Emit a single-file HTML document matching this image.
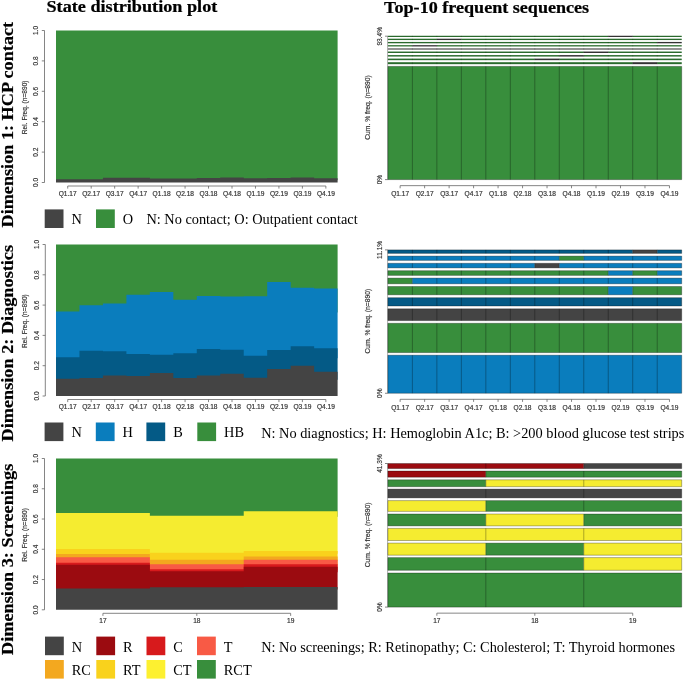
<!DOCTYPE html>
<html lang="en"><head><meta charset="utf-8"><title>Sequence analysis: state distribution and frequent sequences</title>
<style>html,body{margin:0;padding:0;background:#fff;}body{width:685px;height:679px;overflow:hidden;}svg{display:block;}text{white-space:pre;}.s{stroke:#333;stroke-width:0.18px;}</style>
</head><body>
<svg width="685" height="679" viewBox="0 0 685 679" role="img" aria-label="State distribution plots and top-10 frequent sequences for three dimensions">
<rect x="0" y="0" width="685" height="679" fill="#ffffff"/>
<g transform="translate(46.5 12.1) scale(1 0.93)">
<text x="0" y="0" font-size="18.2" font-family='"Liberation Serif", "Times New Roman", serif' text-anchor="start" font-weight="bold" fill="#000" stroke="#000" stroke-width="0.25">State distribution plot</text>
</g>
<g transform="translate(384.1 12.5) scale(1 0.93)">
<text x="0" y="0" font-size="18.1" font-family='"Liberation Serif", "Times New Roman", serif' text-anchor="start" font-weight="bold" fill="#000" stroke="#000" stroke-width="0.25">Top-10 frequent sequences</text>
</g>
<g transform="translate(13.1 227.5) rotate(-90) scale(1 0.93)">
<text x="0" y="0" font-size="18.2" font-family='"Liberation Serif", "Times New Roman", serif' text-anchor="start" font-weight="bold" fill="#000" stroke="#000" stroke-width="0.2">Dimension 1: HCP contact</text>
</g>
<g transform="translate(13.1 441.5) rotate(-90) scale(1 0.93)">
<text x="0" y="0" font-size="18.25" font-family='"Liberation Serif", "Times New Roman", serif' text-anchor="start" font-weight="bold" fill="#000" stroke="#000" stroke-width="0.2">Dimension 2: Diagnostics</text>
</g>
<g transform="translate(13.1 654.9) rotate(-90) scale(1 0.93)">
<text x="0" y="0" font-size="18.25" font-family='"Liberation Serif", "Times New Roman", serif' text-anchor="start" font-weight="bold" fill="#000" stroke="#000" stroke-width="0.2">Dimension 3: Screenings</text>
</g>
<rect x="56" y="30.5" width="281.6" height="149.66" fill="#388e3c"/>
<polygon points="56,182.5 56,179.16 79.47,179.16 79.47,179.16 102.93,179.16 102.93,177.64 126.4,177.64 126.4,177.64 149.87,177.64 149.87,178.55 173.33,178.55 173.33,178.4 196.8,178.4 196.8,177.94 220.27,177.94 220.27,177.48 243.73,177.48 243.73,178.24 267.2,178.24 267.2,177.94 290.67,177.94 290.67,177.48 314.13,177.48 314.13,178.24 337.6,178.24 337.6,182.5" fill="#444444"/>
<line x1="44.5" y1="30.5" x2="44.5" y2="182.5" stroke="#666666" stroke-width="0.8"/>
<line x1="41.8" y1="182.5" x2="44.5" y2="182.5" stroke="#666666" stroke-width="0.8"/>
<text x="38.2" y="182.5" font-size="6.6" font-family='"Liberation Sans", Arial, sans-serif' text-anchor="middle" font-weight="normal" fill="#333333" transform="rotate(-90 38.2 182.5)" class="s">0.0</text>
<line x1="41.8" y1="152.1" x2="44.5" y2="152.1" stroke="#666666" stroke-width="0.8"/>
<text x="38.2" y="152.1" font-size="6.6" font-family='"Liberation Sans", Arial, sans-serif' text-anchor="middle" font-weight="normal" fill="#333333" transform="rotate(-90 38.2 152.1)" class="s">0.2</text>
<line x1="41.8" y1="121.7" x2="44.5" y2="121.7" stroke="#666666" stroke-width="0.8"/>
<text x="38.2" y="121.7" font-size="6.6" font-family='"Liberation Sans", Arial, sans-serif' text-anchor="middle" font-weight="normal" fill="#333333" transform="rotate(-90 38.2 121.7)" class="s">0.4</text>
<line x1="41.8" y1="91.3" x2="44.5" y2="91.3" stroke="#666666" stroke-width="0.8"/>
<text x="38.2" y="91.3" font-size="6.6" font-family='"Liberation Sans", Arial, sans-serif' text-anchor="middle" font-weight="normal" fill="#333333" transform="rotate(-90 38.2 91.3)" class="s">0.6</text>
<line x1="41.8" y1="60.9" x2="44.5" y2="60.9" stroke="#666666" stroke-width="0.8"/>
<text x="38.2" y="60.9" font-size="6.6" font-family='"Liberation Sans", Arial, sans-serif' text-anchor="middle" font-weight="normal" fill="#333333" transform="rotate(-90 38.2 60.9)" class="s">0.8</text>
<line x1="41.8" y1="30.5" x2="44.5" y2="30.5" stroke="#666666" stroke-width="0.8"/>
<text x="38.2" y="30.5" font-size="6.6" font-family='"Liberation Sans", Arial, sans-serif' text-anchor="middle" font-weight="normal" fill="#333333" transform="rotate(-90 38.2 30.5)" class="s">1.0</text>
<text x="27.2" y="107.3" font-size="6.6" font-family='"Liberation Sans", Arial, sans-serif' text-anchor="middle" font-weight="normal" fill="#333333" transform="rotate(-90 27.2 107.3)" class="s">Rel. Freq. (n=890)</text>
<line x1="67.73" y1="186" x2="325.87" y2="186" stroke="#666666" stroke-width="0.8"/>
<line x1="67.73" y1="186" x2="67.73" y2="188.6" stroke="#666666" stroke-width="0.8"/>
<text x="67.73" y="195.5" font-size="6.6" font-family='"Liberation Sans", Arial, sans-serif' text-anchor="middle" font-weight="normal" fill="#333333" class="s">Q1.17</text>
<line x1="91.2" y1="186" x2="91.2" y2="188.6" stroke="#666666" stroke-width="0.8"/>
<text x="91.2" y="195.5" font-size="6.6" font-family='"Liberation Sans", Arial, sans-serif' text-anchor="middle" font-weight="normal" fill="#333333" class="s">Q2.17</text>
<line x1="114.67" y1="186" x2="114.67" y2="188.6" stroke="#666666" stroke-width="0.8"/>
<text x="114.67" y="195.5" font-size="6.6" font-family='"Liberation Sans", Arial, sans-serif' text-anchor="middle" font-weight="normal" fill="#333333" class="s">Q3.17</text>
<line x1="138.13" y1="186" x2="138.13" y2="188.6" stroke="#666666" stroke-width="0.8"/>
<text x="138.13" y="195.5" font-size="6.6" font-family='"Liberation Sans", Arial, sans-serif' text-anchor="middle" font-weight="normal" fill="#333333" class="s">Q4.17</text>
<line x1="161.6" y1="186" x2="161.6" y2="188.6" stroke="#666666" stroke-width="0.8"/>
<text x="161.6" y="195.5" font-size="6.6" font-family='"Liberation Sans", Arial, sans-serif' text-anchor="middle" font-weight="normal" fill="#333333" class="s">Q1.18</text>
<line x1="185.07" y1="186" x2="185.07" y2="188.6" stroke="#666666" stroke-width="0.8"/>
<text x="185.07" y="195.5" font-size="6.6" font-family='"Liberation Sans", Arial, sans-serif' text-anchor="middle" font-weight="normal" fill="#333333" class="s">Q2.18</text>
<line x1="208.53" y1="186" x2="208.53" y2="188.6" stroke="#666666" stroke-width="0.8"/>
<text x="208.53" y="195.5" font-size="6.6" font-family='"Liberation Sans", Arial, sans-serif' text-anchor="middle" font-weight="normal" fill="#333333" class="s">Q3.18</text>
<line x1="232" y1="186" x2="232" y2="188.6" stroke="#666666" stroke-width="0.8"/>
<text x="232" y="195.5" font-size="6.6" font-family='"Liberation Sans", Arial, sans-serif' text-anchor="middle" font-weight="normal" fill="#333333" class="s">Q4.18</text>
<line x1="255.47" y1="186" x2="255.47" y2="188.6" stroke="#666666" stroke-width="0.8"/>
<text x="255.47" y="195.5" font-size="6.6" font-family='"Liberation Sans", Arial, sans-serif' text-anchor="middle" font-weight="normal" fill="#333333" class="s">Q1.19</text>
<line x1="278.93" y1="186" x2="278.93" y2="188.6" stroke="#666666" stroke-width="0.8"/>
<text x="278.93" y="195.5" font-size="6.6" font-family='"Liberation Sans", Arial, sans-serif' text-anchor="middle" font-weight="normal" fill="#333333" class="s">Q2.19</text>
<line x1="302.4" y1="186" x2="302.4" y2="188.6" stroke="#666666" stroke-width="0.8"/>
<text x="302.4" y="195.5" font-size="6.6" font-family='"Liberation Sans", Arial, sans-serif' text-anchor="middle" font-weight="normal" fill="#333333" class="s">Q3.19</text>
<line x1="325.87" y1="186" x2="325.87" y2="188.6" stroke="#666666" stroke-width="0.8"/>
<text x="325.87" y="195.5" font-size="6.6" font-family='"Liberation Sans", Arial, sans-serif' text-anchor="middle" font-weight="normal" fill="#333333" class="s">Q4.19</text>
<rect x="56" y="244.5" width="281.6" height="67.96" fill="#388e3c"/>
<polygon points="56,358.37 56,311.46 79.47,311.46 79.47,305.25 102.93,305.25 102.93,303.43 126.4,303.43 126.4,294.65 149.87,294.65 149.87,291.92 173.33,291.92 173.33,299.65 196.8,299.65 196.8,296.01 220.27,296.01 220.27,296.46 243.73,296.46 243.73,296.16 267.2,296.16 267.2,282.07 290.67,282.07 290.67,287.68 314.13,287.68 314.13,288.59 337.6,288.59 337.6,358.37" fill="#0a7dbd"/>
<polygon points="56,379.73 56,357.37 79.47,357.37 79.47,350.85 102.93,350.85 102.93,351.16 126.4,351.16 126.4,353.88 149.87,353.88 149.87,354.79 173.33,354.79 173.33,353.13 196.8,353.13 196.8,349.04 220.27,349.04 220.27,349.64 243.73,349.64 243.73,355.85 267.2,355.85 267.2,350.1 290.67,350.1 290.67,346.31 314.13,346.31 314.13,348.28 337.6,348.28 337.6,379.73" fill="#045a86"/>
<polygon points="56,396 56,378.73 79.47,378.73 79.47,377.97 102.93,377.97 102.93,375.4 126.4,375.4 126.4,376 149.87,376 149.87,373.12 173.33,373.12 173.33,378.12 196.8,378.12 196.8,375.4 220.27,375.4 220.27,373.73 243.73,373.73 243.73,377.67 267.2,377.67 267.2,368.88 290.67,368.88 290.67,365.7 314.13,365.7 314.13,371.76 337.6,371.76 337.6,396" fill="#444444"/>
<line x1="45.3" y1="244.5" x2="45.3" y2="396" stroke="#666666" stroke-width="0.8"/>
<line x1="42.6" y1="396" x2="45.3" y2="396" stroke="#666666" stroke-width="0.8"/>
<text x="39" y="396" font-size="6.6" font-family='"Liberation Sans", Arial, sans-serif' text-anchor="middle" font-weight="normal" fill="#333333" transform="rotate(-90 39 396)" class="s">0.0</text>
<line x1="42.6" y1="365.7" x2="45.3" y2="365.7" stroke="#666666" stroke-width="0.8"/>
<text x="39" y="365.7" font-size="6.6" font-family='"Liberation Sans", Arial, sans-serif' text-anchor="middle" font-weight="normal" fill="#333333" transform="rotate(-90 39 365.7)" class="s">0.2</text>
<line x1="42.6" y1="335.4" x2="45.3" y2="335.4" stroke="#666666" stroke-width="0.8"/>
<text x="39" y="335.4" font-size="6.6" font-family='"Liberation Sans", Arial, sans-serif' text-anchor="middle" font-weight="normal" fill="#333333" transform="rotate(-90 39 335.4)" class="s">0.4</text>
<line x1="42.6" y1="305.1" x2="45.3" y2="305.1" stroke="#666666" stroke-width="0.8"/>
<text x="39" y="305.1" font-size="6.6" font-family='"Liberation Sans", Arial, sans-serif' text-anchor="middle" font-weight="normal" fill="#333333" transform="rotate(-90 39 305.1)" class="s">0.6</text>
<line x1="42.6" y1="274.8" x2="45.3" y2="274.8" stroke="#666666" stroke-width="0.8"/>
<text x="39" y="274.8" font-size="6.6" font-family='"Liberation Sans", Arial, sans-serif' text-anchor="middle" font-weight="normal" fill="#333333" transform="rotate(-90 39 274.8)" class="s">0.8</text>
<line x1="42.6" y1="244.5" x2="45.3" y2="244.5" stroke="#666666" stroke-width="0.8"/>
<text x="39" y="244.5" font-size="6.6" font-family='"Liberation Sans", Arial, sans-serif' text-anchor="middle" font-weight="normal" fill="#333333" transform="rotate(-90 39 244.5)" class="s">1.0</text>
<text x="27.2" y="321.05" font-size="6.6" font-family='"Liberation Sans", Arial, sans-serif' text-anchor="middle" font-weight="normal" fill="#333333" transform="rotate(-90 27.2 321.05)" class="s">Rel. Freq. (n=890)</text>
<line x1="67.73" y1="399.5" x2="325.87" y2="399.5" stroke="#666666" stroke-width="0.8"/>
<line x1="67.73" y1="399.5" x2="67.73" y2="402.1" stroke="#666666" stroke-width="0.8"/>
<text x="67.73" y="409" font-size="6.6" font-family='"Liberation Sans", Arial, sans-serif' text-anchor="middle" font-weight="normal" fill="#333333" class="s">Q1.17</text>
<line x1="91.2" y1="399.5" x2="91.2" y2="402.1" stroke="#666666" stroke-width="0.8"/>
<text x="91.2" y="409" font-size="6.6" font-family='"Liberation Sans", Arial, sans-serif' text-anchor="middle" font-weight="normal" fill="#333333" class="s">Q2.17</text>
<line x1="114.67" y1="399.5" x2="114.67" y2="402.1" stroke="#666666" stroke-width="0.8"/>
<text x="114.67" y="409" font-size="6.6" font-family='"Liberation Sans", Arial, sans-serif' text-anchor="middle" font-weight="normal" fill="#333333" class="s">Q3.17</text>
<line x1="138.13" y1="399.5" x2="138.13" y2="402.1" stroke="#666666" stroke-width="0.8"/>
<text x="138.13" y="409" font-size="6.6" font-family='"Liberation Sans", Arial, sans-serif' text-anchor="middle" font-weight="normal" fill="#333333" class="s">Q4.17</text>
<line x1="161.6" y1="399.5" x2="161.6" y2="402.1" stroke="#666666" stroke-width="0.8"/>
<text x="161.6" y="409" font-size="6.6" font-family='"Liberation Sans", Arial, sans-serif' text-anchor="middle" font-weight="normal" fill="#333333" class="s">Q1.18</text>
<line x1="185.07" y1="399.5" x2="185.07" y2="402.1" stroke="#666666" stroke-width="0.8"/>
<text x="185.07" y="409" font-size="6.6" font-family='"Liberation Sans", Arial, sans-serif' text-anchor="middle" font-weight="normal" fill="#333333" class="s">Q2.18</text>
<line x1="208.53" y1="399.5" x2="208.53" y2="402.1" stroke="#666666" stroke-width="0.8"/>
<text x="208.53" y="409" font-size="6.6" font-family='"Liberation Sans", Arial, sans-serif' text-anchor="middle" font-weight="normal" fill="#333333" class="s">Q3.18</text>
<line x1="232" y1="399.5" x2="232" y2="402.1" stroke="#666666" stroke-width="0.8"/>
<text x="232" y="409" font-size="6.6" font-family='"Liberation Sans", Arial, sans-serif' text-anchor="middle" font-weight="normal" fill="#333333" class="s">Q4.18</text>
<line x1="255.47" y1="399.5" x2="255.47" y2="402.1" stroke="#666666" stroke-width="0.8"/>
<text x="255.47" y="409" font-size="6.6" font-family='"Liberation Sans", Arial, sans-serif' text-anchor="middle" font-weight="normal" fill="#333333" class="s">Q1.19</text>
<line x1="278.93" y1="399.5" x2="278.93" y2="402.1" stroke="#666666" stroke-width="0.8"/>
<text x="278.93" y="409" font-size="6.6" font-family='"Liberation Sans", Arial, sans-serif' text-anchor="middle" font-weight="normal" fill="#333333" class="s">Q2.19</text>
<line x1="302.4" y1="399.5" x2="302.4" y2="402.1" stroke="#666666" stroke-width="0.8"/>
<text x="302.4" y="409" font-size="6.6" font-family='"Liberation Sans", Arial, sans-serif' text-anchor="middle" font-weight="normal" fill="#333333" class="s">Q3.19</text>
<line x1="325.87" y1="399.5" x2="325.87" y2="402.1" stroke="#666666" stroke-width="0.8"/>
<text x="325.87" y="409" font-size="6.6" font-family='"Liberation Sans", Arial, sans-serif' text-anchor="middle" font-weight="normal" fill="#333333" class="s">Q4.19</text>
<rect x="56" y="458.5" width="281.6" height="58.34" fill="#388e3c"/>
<polygon points="56,553.76 56,513.12 149.87,513.12 149.87,515.84 243.73,515.84 243.73,511.3 337.6,511.3 337.6,553.76" fill="#f5ec30"/>
<polygon points="56,560.72 56,548.98 149.87,548.98 149.87,552.76 243.73,552.76 243.73,550.94 337.6,550.94 337.6,560.72" fill="#f9d21c"/>
<polygon points="56,565.26 56,553.97 149.87,553.97 149.87,559.72 243.73,559.72 243.73,556.39 337.6,556.39 337.6,565.26" fill="#f3a81f"/>
<polygon points="56,570.25 56,557.15 149.87,557.15 149.87,564.26 243.73,564.26 243.73,559.72 337.6,559.72 337.6,570.25" fill="#f85a45"/>
<polygon points="56,572.22 56,562.75 149.87,562.75 149.87,569.25 243.73,569.25 243.73,564.26 337.6,564.26 337.6,572.22" fill="#d71a1c"/>
<polygon points="56,589.47 56,564.71 149.87,564.71 149.87,571.22 243.73,571.22 243.73,566.68 337.6,566.68 337.6,589.47" fill="#9b0b10"/>
<polygon points="56,609.8 56,588.47 149.87,588.47 149.87,587.26 243.73,587.26 243.73,586.95 337.6,586.95 337.6,609.8" fill="#444444"/>
<line x1="44.5" y1="458.5" x2="44.5" y2="609.8" stroke="#666666" stroke-width="0.8"/>
<line x1="41.8" y1="609.8" x2="44.5" y2="609.8" stroke="#666666" stroke-width="0.8"/>
<text x="38.2" y="609.8" font-size="6.6" font-family='"Liberation Sans", Arial, sans-serif' text-anchor="middle" font-weight="normal" fill="#333333" transform="rotate(-90 38.2 609.8)" class="s">0.0</text>
<line x1="41.8" y1="579.54" x2="44.5" y2="579.54" stroke="#666666" stroke-width="0.8"/>
<text x="38.2" y="579.54" font-size="6.6" font-family='"Liberation Sans", Arial, sans-serif' text-anchor="middle" font-weight="normal" fill="#333333" transform="rotate(-90 38.2 579.54)" class="s">0.2</text>
<line x1="41.8" y1="549.28" x2="44.5" y2="549.28" stroke="#666666" stroke-width="0.8"/>
<text x="38.2" y="549.28" font-size="6.6" font-family='"Liberation Sans", Arial, sans-serif' text-anchor="middle" font-weight="normal" fill="#333333" transform="rotate(-90 38.2 549.28)" class="s">0.4</text>
<line x1="41.8" y1="519.02" x2="44.5" y2="519.02" stroke="#666666" stroke-width="0.8"/>
<text x="38.2" y="519.02" font-size="6.6" font-family='"Liberation Sans", Arial, sans-serif' text-anchor="middle" font-weight="normal" fill="#333333" transform="rotate(-90 38.2 519.02)" class="s">0.6</text>
<line x1="41.8" y1="488.76" x2="44.5" y2="488.76" stroke="#666666" stroke-width="0.8"/>
<text x="38.2" y="488.76" font-size="6.6" font-family='"Liberation Sans", Arial, sans-serif' text-anchor="middle" font-weight="normal" fill="#333333" transform="rotate(-90 38.2 488.76)" class="s">0.8</text>
<line x1="41.8" y1="458.5" x2="44.5" y2="458.5" stroke="#666666" stroke-width="0.8"/>
<text x="38.2" y="458.5" font-size="6.6" font-family='"Liberation Sans", Arial, sans-serif' text-anchor="middle" font-weight="normal" fill="#333333" transform="rotate(-90 38.2 458.5)" class="s">1.0</text>
<text x="27.2" y="534.95" font-size="6.6" font-family='"Liberation Sans", Arial, sans-serif' text-anchor="middle" font-weight="normal" fill="#333333" transform="rotate(-90 27.2 534.95)" class="s">Rel. Freq. (n=890)</text>
<line x1="102.93" y1="613.3" x2="290.67" y2="613.3" stroke="#666666" stroke-width="0.8"/>
<line x1="102.93" y1="613.3" x2="102.93" y2="615.9" stroke="#666666" stroke-width="0.8"/>
<text x="102.93" y="622.8" font-size="6.6" font-family='"Liberation Sans", Arial, sans-serif' text-anchor="middle" font-weight="normal" fill="#333333" class="s">17</text>
<line x1="196.8" y1="613.3" x2="196.8" y2="615.9" stroke="#666666" stroke-width="0.8"/>
<text x="196.8" y="622.8" font-size="6.6" font-family='"Liberation Sans", Arial, sans-serif' text-anchor="middle" font-weight="normal" fill="#333333" class="s">18</text>
<line x1="290.67" y1="613.3" x2="290.67" y2="615.9" stroke="#666666" stroke-width="0.8"/>
<text x="290.67" y="622.8" font-size="6.6" font-family='"Liberation Sans", Arial, sans-serif' text-anchor="middle" font-weight="normal" fill="#333333" class="s">19</text>
<line x1="387.6" y1="36.2" x2="387.6" y2="179.6" stroke="#8c8c8c" stroke-width="0.7"/>
<rect x="387.9" y="66.4" width="293.8" height="113.2" fill="#388e3c"/>
<path d="M387.9 66.4H681.7V179.6H387.9Z M412.38 66.4V179.6 M436.87 66.4V179.6 M461.35 66.4V179.6 M485.83 66.4V179.6 M510.32 66.4V179.6 M534.8 66.4V179.6 M559.28 66.4V179.6 M583.77 66.4V179.6 M608.25 66.4V179.6 M632.73 66.4V179.6 M657.22 66.4V179.6" stroke="#000" stroke-opacity="0.55" stroke-width="0.55" fill="none"/>
<rect x="387.9" y="62.25" width="244.83" height="1.9" fill="#388e3c"/>
<rect x="632.73" y="62.25" width="24.48" height="1.9" fill="#444444"/>
<rect x="657.22" y="62.25" width="24.48" height="1.9" fill="#388e3c"/>
<rect x="387.9" y="62.25" width="293.8" height="1.9" fill="#000" fill-opacity="0.25"/>
<path d="M412.38 62.25V64.15 M436.87 62.25V64.15 M461.35 62.25V64.15 M485.83 62.25V64.15 M510.32 62.25V64.15 M534.8 62.25V64.15 M559.28 62.25V64.15 M583.77 62.25V64.15 M608.25 62.25V64.15 M632.73 62.25V64.15 M657.22 62.25V64.15" stroke="#000" stroke-opacity="0.35" stroke-width="0.6" fill="none"/>
<rect x="387.9" y="58.65" width="146.9" height="1.5" fill="#388e3c"/>
<rect x="534.8" y="58.65" width="24.48" height="1.5" fill="#444444"/>
<rect x="559.28" y="58.65" width="122.42" height="1.5" fill="#388e3c"/>
<rect x="387.9" y="58.65" width="293.8" height="1.5" fill="#000" fill-opacity="0.25"/>
<path d="M412.38 58.65V60.15 M436.87 58.65V60.15 M461.35 58.65V60.15 M485.83 58.65V60.15 M510.32 58.65V60.15 M534.8 58.65V60.15 M559.28 58.65V60.15 M583.77 58.65V60.15 M608.25 58.65V60.15 M632.73 58.65V60.15 M657.22 58.65V60.15" stroke="#000" stroke-opacity="0.35" stroke-width="0.6" fill="none"/>
<rect x="387.9" y="55.1" width="171.38" height="1.4" fill="#388e3c"/>
<rect x="559.28" y="55.1" width="24.48" height="1.4" fill="#444444"/>
<rect x="583.77" y="55.1" width="97.93" height="1.4" fill="#388e3c"/>
<rect x="387.9" y="55.1" width="293.8" height="1.4" fill="#000" fill-opacity="0.25"/>
<path d="M412.38 55.1V56.5 M436.87 55.1V56.5 M461.35 55.1V56.5 M485.83 55.1V56.5 M510.32 55.1V56.5 M534.8 55.1V56.5 M559.28 55.1V56.5 M583.77 55.1V56.5 M608.25 55.1V56.5 M632.73 55.1V56.5 M657.22 55.1V56.5" stroke="#000" stroke-opacity="0.35" stroke-width="0.6" fill="none"/>
<rect x="387.9" y="51.6" width="195.87" height="1.4" fill="#388e3c"/>
<rect x="583.77" y="51.6" width="24.48" height="1.4" fill="#444444"/>
<rect x="608.25" y="51.6" width="73.45" height="1.4" fill="#388e3c"/>
<rect x="387.9" y="51.6" width="293.8" height="1.4" fill="#000" fill-opacity="0.25"/>
<path d="M412.38 51.6V53 M436.87 51.6V53 M461.35 51.6V53 M485.83 51.6V53 M510.32 51.6V53 M534.8 51.6V53 M559.28 51.6V53 M583.77 51.6V53 M608.25 51.6V53 M632.73 51.6V53 M657.22 51.6V53" stroke="#000" stroke-opacity="0.35" stroke-width="0.6" fill="none"/>
<rect x="387.9" y="48.3" width="293.8" height="1.4" fill="#444444"/>
<rect x="387.9" y="48.3" width="293.8" height="1.4" fill="#fff" fill-opacity="0.25"/>
<path d="M412.38 48.3V49.7 M436.87 48.3V49.7 M461.35 48.3V49.7 M485.83 48.3V49.7 M510.32 48.3V49.7 M534.8 48.3V49.7 M559.28 48.3V49.7 M583.77 48.3V49.7 M608.25 48.3V49.7 M632.73 48.3V49.7 M657.22 48.3V49.7" stroke="#000" stroke-opacity="0.35" stroke-width="0.6" fill="none"/>
<rect x="387.9" y="45.2" width="24.48" height="1.2" fill="#388e3c"/>
<rect x="412.38" y="45.2" width="24.48" height="1.2" fill="#444444"/>
<rect x="436.87" y="45.2" width="244.83" height="1.2" fill="#388e3c"/>
<rect x="387.9" y="45.2" width="293.8" height="1.2" fill="#000" fill-opacity="0.25"/>
<path d="M412.38 45.2V46.4 M436.87 45.2V46.4 M461.35 45.2V46.4 M485.83 45.2V46.4 M510.32 45.2V46.4 M534.8 45.2V46.4 M559.28 45.2V46.4 M583.77 45.2V46.4 M608.25 45.2V46.4 M632.73 45.2V46.4 M657.22 45.2V46.4" stroke="#000" stroke-opacity="0.35" stroke-width="0.6" fill="none"/>
<rect x="387.9" y="41.95" width="269.32" height="1.3" fill="#388e3c"/>
<rect x="657.22" y="41.95" width="24.48" height="1.3" fill="#444444"/>
<rect x="387.9" y="41.95" width="293.8" height="1.3" fill="#000" fill-opacity="0.25"/>
<path d="M412.38 41.95V43.25 M436.87 41.95V43.25 M461.35 41.95V43.25 M485.83 41.95V43.25 M510.32 41.95V43.25 M534.8 41.95V43.25 M559.28 41.95V43.25 M583.77 41.95V43.25 M608.25 41.95V43.25 M632.73 41.95V43.25 M657.22 41.95V43.25" stroke="#000" stroke-opacity="0.35" stroke-width="0.6" fill="none"/>
<rect x="387.9" y="38.75" width="48.97" height="1.3" fill="#388e3c"/>
<rect x="436.87" y="38.75" width="24.48" height="1.3" fill="#444444"/>
<rect x="461.35" y="38.75" width="220.35" height="1.3" fill="#388e3c"/>
<rect x="387.9" y="38.75" width="293.8" height="1.3" fill="#000" fill-opacity="0.25"/>
<path d="M412.38 38.75V40.05 M436.87 38.75V40.05 M461.35 38.75V40.05 M485.83 38.75V40.05 M510.32 38.75V40.05 M534.8 38.75V40.05 M559.28 38.75V40.05 M583.77 38.75V40.05 M608.25 38.75V40.05 M632.73 38.75V40.05 M657.22 38.75V40.05" stroke="#000" stroke-opacity="0.35" stroke-width="0.6" fill="none"/>
<rect x="387.9" y="35.8" width="220.35" height="1.2" fill="#388e3c"/>
<rect x="608.25" y="35.8" width="24.48" height="1.2" fill="#444444"/>
<rect x="632.73" y="35.8" width="48.97" height="1.2" fill="#388e3c"/>
<rect x="387.9" y="35.8" width="293.8" height="1.2" fill="#000" fill-opacity="0.25"/>
<path d="M412.38 35.8V37 M436.87 35.8V37 M461.35 35.8V37 M485.83 35.8V37 M510.32 35.8V37 M534.8 35.8V37 M559.28 35.8V37 M583.77 35.8V37 M608.25 35.8V37 M632.73 35.8V37 M657.22 35.8V37" stroke="#000" stroke-opacity="0.35" stroke-width="0.6" fill="none"/>
<line x1="385" y1="36.2" x2="387.9" y2="36.2" stroke="#666" stroke-width="0.8"/>
<line x1="385" y1="179.6" x2="387.9" y2="179.6" stroke="#666" stroke-width="0.8"/>
<text x="381.8" y="36.2" font-size="6.6" font-family='"Liberation Sans", Arial, sans-serif' text-anchor="middle" font-weight="normal" fill="#333333" transform="rotate(-90 381.8 36.2)" class="s">93.4%</text>
<text x="381.8" y="179.6" font-size="6.6" font-family='"Liberation Sans", Arial, sans-serif' text-anchor="middle" font-weight="normal" fill="#333333" transform="rotate(-90 381.8 179.6)" class="s">0%</text>
<text x="370" y="107.5" font-size="6.75" font-family='"Liberation Sans", Arial, sans-serif' text-anchor="middle" font-weight="normal" fill="#333333" transform="rotate(-90 370 107.5)" class="s">Cum. % freq. (n=890)</text>
<line x1="400.14" y1="185.65" x2="669.46" y2="185.65" stroke="#666666" stroke-width="0.8"/>
<line x1="400.14" y1="185.65" x2="400.14" y2="188.25" stroke="#666666" stroke-width="0.8"/>
<text x="400.14" y="195.95" font-size="6.6" font-family='"Liberation Sans", Arial, sans-serif' text-anchor="middle" font-weight="normal" fill="#333333" class="s">Q1.17</text>
<line x1="424.62" y1="185.65" x2="424.62" y2="188.25" stroke="#666666" stroke-width="0.8"/>
<text x="424.62" y="195.95" font-size="6.6" font-family='"Liberation Sans", Arial, sans-serif' text-anchor="middle" font-weight="normal" fill="#333333" class="s">Q2.17</text>
<line x1="449.11" y1="185.65" x2="449.11" y2="188.25" stroke="#666666" stroke-width="0.8"/>
<text x="449.11" y="195.95" font-size="6.6" font-family='"Liberation Sans", Arial, sans-serif' text-anchor="middle" font-weight="normal" fill="#333333" class="s">Q3.17</text>
<line x1="473.59" y1="185.65" x2="473.59" y2="188.25" stroke="#666666" stroke-width="0.8"/>
<text x="473.59" y="195.95" font-size="6.6" font-family='"Liberation Sans", Arial, sans-serif' text-anchor="middle" font-weight="normal" fill="#333333" class="s">Q4.17</text>
<line x1="498.07" y1="185.65" x2="498.07" y2="188.25" stroke="#666666" stroke-width="0.8"/>
<text x="498.07" y="195.95" font-size="6.6" font-family='"Liberation Sans", Arial, sans-serif' text-anchor="middle" font-weight="normal" fill="#333333" class="s">Q1.18</text>
<line x1="522.56" y1="185.65" x2="522.56" y2="188.25" stroke="#666666" stroke-width="0.8"/>
<text x="522.56" y="195.95" font-size="6.6" font-family='"Liberation Sans", Arial, sans-serif' text-anchor="middle" font-weight="normal" fill="#333333" class="s">Q2.18</text>
<line x1="547.04" y1="185.65" x2="547.04" y2="188.25" stroke="#666666" stroke-width="0.8"/>
<text x="547.04" y="195.95" font-size="6.6" font-family='"Liberation Sans", Arial, sans-serif' text-anchor="middle" font-weight="normal" fill="#333333" class="s">Q3.18</text>
<line x1="571.52" y1="185.65" x2="571.52" y2="188.25" stroke="#666666" stroke-width="0.8"/>
<text x="571.52" y="195.95" font-size="6.6" font-family='"Liberation Sans", Arial, sans-serif' text-anchor="middle" font-weight="normal" fill="#333333" class="s">Q4.18</text>
<line x1="596.01" y1="185.65" x2="596.01" y2="188.25" stroke="#666666" stroke-width="0.8"/>
<text x="596.01" y="195.95" font-size="6.6" font-family='"Liberation Sans", Arial, sans-serif' text-anchor="middle" font-weight="normal" fill="#333333" class="s">Q1.19</text>
<line x1="620.49" y1="185.65" x2="620.49" y2="188.25" stroke="#666666" stroke-width="0.8"/>
<text x="620.49" y="195.95" font-size="6.6" font-family='"Liberation Sans", Arial, sans-serif' text-anchor="middle" font-weight="normal" fill="#333333" class="s">Q2.19</text>
<line x1="644.98" y1="185.65" x2="644.98" y2="188.25" stroke="#666666" stroke-width="0.8"/>
<text x="644.98" y="195.95" font-size="6.6" font-family='"Liberation Sans", Arial, sans-serif' text-anchor="middle" font-weight="normal" fill="#333333" class="s">Q3.19</text>
<line x1="669.46" y1="185.65" x2="669.46" y2="188.25" stroke="#666666" stroke-width="0.8"/>
<text x="669.46" y="195.95" font-size="6.6" font-family='"Liberation Sans", Arial, sans-serif' text-anchor="middle" font-weight="normal" fill="#333333" class="s">Q4.19</text>
<line x1="387.6" y1="249.9" x2="387.6" y2="393.25" stroke="#8c8c8c" stroke-width="0.7"/>
<rect x="387.9" y="355.2" width="293.8" height="38.05" fill="#0a7dbd"/>
<path d="M387.9 355.2H681.7V393.25H387.9Z M412.38 355.2V393.25 M436.87 355.2V393.25 M461.35 355.2V393.25 M485.83 355.2V393.25 M510.32 355.2V393.25 M534.8 355.2V393.25 M559.28 355.2V393.25 M583.77 355.2V393.25 M608.25 355.2V393.25 M632.73 355.2V393.25 M657.22 355.2V393.25" stroke="#000" stroke-opacity="0.55" stroke-width="0.55" fill="none"/>
<rect x="387.9" y="323.3" width="293.8" height="29.3" fill="#388e3c"/>
<path d="M387.9 323.3H681.7V352.6H387.9Z M412.38 323.3V352.6 M436.87 323.3V352.6 M461.35 323.3V352.6 M485.83 323.3V352.6 M510.32 323.3V352.6 M534.8 323.3V352.6 M559.28 323.3V352.6 M583.77 323.3V352.6 M608.25 323.3V352.6 M632.73 323.3V352.6 M657.22 323.3V352.6" stroke="#000" stroke-opacity="0.55" stroke-width="0.55" fill="none"/>
<rect x="387.9" y="308.8" width="293.8" height="11.8" fill="#444444"/>
<path d="M387.9 308.8H681.7V320.6H387.9Z M412.38 308.8V320.6 M436.87 308.8V320.6 M461.35 308.8V320.6 M485.83 308.8V320.6 M510.32 308.8V320.6 M534.8 308.8V320.6 M559.28 308.8V320.6 M583.77 308.8V320.6 M608.25 308.8V320.6 M632.73 308.8V320.6 M657.22 308.8V320.6" stroke="#000" stroke-opacity="0.55" stroke-width="0.55" fill="none"/>
<rect x="387.9" y="297.7" width="293.8" height="8.3" fill="#045a86"/>
<path d="M387.9 297.7H681.7V306H387.9Z M412.38 297.7V306 M436.87 297.7V306 M461.35 297.7V306 M485.83 297.7V306 M510.32 297.7V306 M534.8 297.7V306 M559.28 297.7V306 M583.77 297.7V306 M608.25 297.7V306 M632.73 297.7V306 M657.22 297.7V306" stroke="#000" stroke-opacity="0.55" stroke-width="0.55" fill="none"/>
<rect x="387.9" y="286.5" width="220.35" height="8.3" fill="#388e3c"/>
<rect x="608.25" y="286.5" width="24.48" height="8.3" fill="#0a7dbd"/>
<rect x="632.73" y="286.5" width="48.97" height="8.3" fill="#388e3c"/>
<path d="M387.9 286.5H681.7V294.8H387.9Z M412.38 286.5V294.8 M436.87 286.5V294.8 M461.35 286.5V294.8 M485.83 286.5V294.8 M510.32 286.5V294.8 M534.8 286.5V294.8 M559.28 286.5V294.8 M583.77 286.5V294.8 M608.25 286.5V294.8 M632.73 286.5V294.8 M657.22 286.5V294.8" stroke="#000" stroke-opacity="0.55" stroke-width="0.55" fill="none"/>
<rect x="387.9" y="278.1" width="24.48" height="5.7" fill="#388e3c"/>
<rect x="412.38" y="278.1" width="269.32" height="5.7" fill="#0a7dbd"/>
<path d="M387.9 278.1H681.7V283.8H387.9Z M412.38 278.1V283.8 M436.87 278.1V283.8 M461.35 278.1V283.8 M485.83 278.1V283.8 M510.32 278.1V283.8 M534.8 278.1V283.8 M559.28 278.1V283.8 M583.77 278.1V283.8 M608.25 278.1V283.8 M632.73 278.1V283.8 M657.22 278.1V283.8" stroke="#000" stroke-opacity="0.55" stroke-width="0.55" fill="none"/>
<rect x="387.9" y="270.7" width="220.35" height="4.7" fill="#388e3c"/>
<rect x="608.25" y="270.7" width="24.48" height="4.7" fill="#0a7dbd"/>
<rect x="632.73" y="270.7" width="24.48" height="4.7" fill="#388e3c"/>
<rect x="657.22" y="270.7" width="24.48" height="4.7" fill="#0a7dbd"/>
<path d="M387.9 270.7H681.7V275.4H387.9Z M412.38 270.7V275.4 M436.87 270.7V275.4 M461.35 270.7V275.4 M485.83 270.7V275.4 M510.32 270.7V275.4 M534.8 270.7V275.4 M559.28 270.7V275.4 M583.77 270.7V275.4 M608.25 270.7V275.4 M632.73 270.7V275.4 M657.22 270.7V275.4" stroke="#000" stroke-opacity="0.55" stroke-width="0.55" fill="none"/>
<rect x="387.9" y="263.3" width="146.9" height="4.6" fill="#0a7dbd"/>
<rect x="534.8" y="263.3" width="24.48" height="4.6" fill="#444444"/>
<rect x="559.28" y="263.3" width="122.42" height="4.6" fill="#0a7dbd"/>
<path d="M387.9 263.3H681.7V267.9H387.9Z M412.38 263.3V267.9 M436.87 263.3V267.9 M461.35 263.3V267.9 M485.83 263.3V267.9 M510.32 263.3V267.9 M534.8 263.3V267.9 M559.28 263.3V267.9 M583.77 263.3V267.9 M608.25 263.3V267.9 M632.73 263.3V267.9 M657.22 263.3V267.9" stroke="#000" stroke-opacity="0.55" stroke-width="0.55" fill="none"/>
<rect x="387.9" y="256.1" width="171.38" height="4.3" fill="#0a7dbd"/>
<rect x="559.28" y="256.1" width="24.48" height="4.3" fill="#388e3c"/>
<rect x="583.77" y="256.1" width="97.93" height="4.3" fill="#0a7dbd"/>
<path d="M387.9 256.1H681.7V260.4H387.9Z M412.38 256.1V260.4 M436.87 256.1V260.4 M461.35 256.1V260.4 M485.83 256.1V260.4 M510.32 256.1V260.4 M534.8 256.1V260.4 M559.28 256.1V260.4 M583.77 256.1V260.4 M608.25 256.1V260.4 M632.73 256.1V260.4 M657.22 256.1V260.4" stroke="#000" stroke-opacity="0.55" stroke-width="0.55" fill="none"/>
<rect x="387.9" y="249.9" width="244.83" height="3.5" fill="#045a86"/>
<rect x="632.73" y="249.9" width="24.48" height="3.5" fill="#444444"/>
<rect x="657.22" y="249.9" width="24.48" height="3.5" fill="#045a86"/>
<path d="M387.9 249.9H681.7V253.4H387.9Z M412.38 249.9V253.4 M436.87 249.9V253.4 M461.35 249.9V253.4 M485.83 249.9V253.4 M510.32 249.9V253.4 M534.8 249.9V253.4 M559.28 249.9V253.4 M583.77 249.9V253.4 M608.25 249.9V253.4 M632.73 249.9V253.4 M657.22 249.9V253.4" stroke="#000" stroke-opacity="0.55" stroke-width="0.55" fill="none"/>
<line x1="385" y1="249.9" x2="387.9" y2="249.9" stroke="#666" stroke-width="0.8"/>
<line x1="385" y1="393.25" x2="387.9" y2="393.25" stroke="#666" stroke-width="0.8"/>
<text x="381.8" y="249.9" font-size="6.6" font-family='"Liberation Sans", Arial, sans-serif' text-anchor="middle" font-weight="normal" fill="#333333" transform="rotate(-90 381.8 249.9)" class="s">11.1%</text>
<text x="381.8" y="393.25" font-size="6.6" font-family='"Liberation Sans", Arial, sans-serif' text-anchor="middle" font-weight="normal" fill="#333333" transform="rotate(-90 381.8 393.25)" class="s">0%</text>
<text x="370" y="321.18" font-size="6.75" font-family='"Liberation Sans", Arial, sans-serif' text-anchor="middle" font-weight="normal" fill="#333333" transform="rotate(-90 370 321.18)" class="s">Cum. % freq. (n=890)</text>
<line x1="400.14" y1="399.3" x2="669.46" y2="399.3" stroke="#666666" stroke-width="0.8"/>
<line x1="400.14" y1="399.3" x2="400.14" y2="401.9" stroke="#666666" stroke-width="0.8"/>
<text x="400.14" y="409.6" font-size="6.6" font-family='"Liberation Sans", Arial, sans-serif' text-anchor="middle" font-weight="normal" fill="#333333" class="s">Q1.17</text>
<line x1="424.62" y1="399.3" x2="424.62" y2="401.9" stroke="#666666" stroke-width="0.8"/>
<text x="424.62" y="409.6" font-size="6.6" font-family='"Liberation Sans", Arial, sans-serif' text-anchor="middle" font-weight="normal" fill="#333333" class="s">Q2.17</text>
<line x1="449.11" y1="399.3" x2="449.11" y2="401.9" stroke="#666666" stroke-width="0.8"/>
<text x="449.11" y="409.6" font-size="6.6" font-family='"Liberation Sans", Arial, sans-serif' text-anchor="middle" font-weight="normal" fill="#333333" class="s">Q3.17</text>
<line x1="473.59" y1="399.3" x2="473.59" y2="401.9" stroke="#666666" stroke-width="0.8"/>
<text x="473.59" y="409.6" font-size="6.6" font-family='"Liberation Sans", Arial, sans-serif' text-anchor="middle" font-weight="normal" fill="#333333" class="s">Q4.17</text>
<line x1="498.07" y1="399.3" x2="498.07" y2="401.9" stroke="#666666" stroke-width="0.8"/>
<text x="498.07" y="409.6" font-size="6.6" font-family='"Liberation Sans", Arial, sans-serif' text-anchor="middle" font-weight="normal" fill="#333333" class="s">Q1.18</text>
<line x1="522.56" y1="399.3" x2="522.56" y2="401.9" stroke="#666666" stroke-width="0.8"/>
<text x="522.56" y="409.6" font-size="6.6" font-family='"Liberation Sans", Arial, sans-serif' text-anchor="middle" font-weight="normal" fill="#333333" class="s">Q2.18</text>
<line x1="547.04" y1="399.3" x2="547.04" y2="401.9" stroke="#666666" stroke-width="0.8"/>
<text x="547.04" y="409.6" font-size="6.6" font-family='"Liberation Sans", Arial, sans-serif' text-anchor="middle" font-weight="normal" fill="#333333" class="s">Q3.18</text>
<line x1="571.52" y1="399.3" x2="571.52" y2="401.9" stroke="#666666" stroke-width="0.8"/>
<text x="571.52" y="409.6" font-size="6.6" font-family='"Liberation Sans", Arial, sans-serif' text-anchor="middle" font-weight="normal" fill="#333333" class="s">Q4.18</text>
<line x1="596.01" y1="399.3" x2="596.01" y2="401.9" stroke="#666666" stroke-width="0.8"/>
<text x="596.01" y="409.6" font-size="6.6" font-family='"Liberation Sans", Arial, sans-serif' text-anchor="middle" font-weight="normal" fill="#333333" class="s">Q1.19</text>
<line x1="620.49" y1="399.3" x2="620.49" y2="401.9" stroke="#666666" stroke-width="0.8"/>
<text x="620.49" y="409.6" font-size="6.6" font-family='"Liberation Sans", Arial, sans-serif' text-anchor="middle" font-weight="normal" fill="#333333" class="s">Q2.19</text>
<line x1="644.98" y1="399.3" x2="644.98" y2="401.9" stroke="#666666" stroke-width="0.8"/>
<text x="644.98" y="409.6" font-size="6.6" font-family='"Liberation Sans", Arial, sans-serif' text-anchor="middle" font-weight="normal" fill="#333333" class="s">Q3.19</text>
<line x1="669.46" y1="399.3" x2="669.46" y2="401.9" stroke="#666666" stroke-width="0.8"/>
<text x="669.46" y="409.6" font-size="6.6" font-family='"Liberation Sans", Arial, sans-serif' text-anchor="middle" font-weight="normal" fill="#333333" class="s">Q4.19</text>
<line x1="387.6" y1="463.5" x2="387.6" y2="607.1" stroke="#8c8c8c" stroke-width="0.7"/>
<rect x="387.9" y="573" width="293.8" height="34.1" fill="#388e3c"/>
<path d="M387.9 573H681.7V607.1H387.9Z M485.83 573V607.1 M583.77 573V607.1" stroke="#000" stroke-opacity="0.55" stroke-width="0.55" fill="none"/>
<rect x="387.9" y="557.6" width="195.87" height="12.7" fill="#388e3c"/>
<rect x="583.77" y="557.6" width="97.93" height="12.7" fill="#f5ec30"/>
<path d="M387.9 557.6H681.7V570.3H387.9Z M485.83 557.6V570.3 M583.77 557.6V570.3" stroke="#000" stroke-opacity="0.55" stroke-width="0.55" fill="none"/>
<rect x="387.9" y="543.1" width="97.93" height="12.1" fill="#f5ec30"/>
<rect x="485.83" y="543.1" width="97.93" height="12.1" fill="#388e3c"/>
<rect x="583.77" y="543.1" width="97.93" height="12.1" fill="#f5ec30"/>
<path d="M387.9 543.1H681.7V555.2H387.9Z M485.83 543.1V555.2 M583.77 543.1V555.2" stroke="#000" stroke-opacity="0.55" stroke-width="0.55" fill="none"/>
<rect x="387.9" y="528.4" width="293.8" height="12.1" fill="#f5ec30"/>
<path d="M387.9 528.4H681.7V540.5H387.9Z M485.83 528.4V540.5 M583.77 528.4V540.5" stroke="#000" stroke-opacity="0.55" stroke-width="0.55" fill="none"/>
<rect x="387.9" y="514" width="97.93" height="11.9" fill="#388e3c"/>
<rect x="485.83" y="514" width="97.93" height="11.9" fill="#f5ec30"/>
<rect x="583.77" y="514" width="97.93" height="11.9" fill="#388e3c"/>
<path d="M387.9 514H681.7V525.9H387.9Z M485.83 514V525.9 M583.77 514V525.9" stroke="#000" stroke-opacity="0.55" stroke-width="0.55" fill="none"/>
<rect x="387.9" y="500.6" width="97.93" height="10.8" fill="#f5ec30"/>
<rect x="485.83" y="500.6" width="195.87" height="10.8" fill="#388e3c"/>
<path d="M387.9 500.6H681.7V511.4H387.9Z M485.83 500.6V511.4 M583.77 500.6V511.4" stroke="#000" stroke-opacity="0.55" stroke-width="0.55" fill="none"/>
<rect x="387.9" y="489.1" width="293.8" height="8.8" fill="#444444"/>
<path d="M387.9 489.1H681.7V497.9H387.9Z M485.83 489.1V497.9 M583.77 489.1V497.9" stroke="#000" stroke-opacity="0.55" stroke-width="0.55" fill="none"/>
<rect x="387.9" y="479.8" width="97.93" height="6.9" fill="#388e3c"/>
<rect x="485.83" y="479.8" width="195.87" height="6.9" fill="#f5ec30"/>
<path d="M387.9 479.8H681.7V486.7H387.9Z M485.83 479.8V486.7 M583.77 479.8V486.7" stroke="#000" stroke-opacity="0.55" stroke-width="0.55" fill="none"/>
<rect x="387.9" y="471" width="97.93" height="6.2" fill="#9b0b10"/>
<rect x="485.83" y="471" width="195.87" height="6.2" fill="#388e3c"/>
<path d="M387.9 471H681.7V477.2H387.9Z M485.83 471V477.2 M583.77 471V477.2" stroke="#000" stroke-opacity="0.55" stroke-width="0.55" fill="none"/>
<rect x="387.9" y="463.5" width="195.87" height="5.1" fill="#9b0b10"/>
<rect x="583.77" y="463.5" width="97.93" height="5.1" fill="#444444"/>
<path d="M387.9 463.5H681.7V468.6H387.9Z M485.83 463.5V468.6 M583.77 463.5V468.6" stroke="#000" stroke-opacity="0.55" stroke-width="0.55" fill="none"/>
<line x1="385" y1="463.5" x2="387.9" y2="463.5" stroke="#666" stroke-width="0.8"/>
<line x1="385" y1="607.1" x2="387.9" y2="607.1" stroke="#666" stroke-width="0.8"/>
<text x="381.8" y="463.5" font-size="6.6" font-family='"Liberation Sans", Arial, sans-serif' text-anchor="middle" font-weight="normal" fill="#333333" transform="rotate(-90 381.8 463.5)" class="s">41.3%</text>
<text x="381.8" y="607.1" font-size="6.6" font-family='"Liberation Sans", Arial, sans-serif' text-anchor="middle" font-weight="normal" fill="#333333" transform="rotate(-90 381.8 607.1)" class="s">0%</text>
<text x="370" y="534.9" font-size="6.75" font-family='"Liberation Sans", Arial, sans-serif' text-anchor="middle" font-weight="normal" fill="#333333" transform="rotate(-90 370 534.9)" class="s">Cum. % freq. (n=890)</text>
<line x1="436.87" y1="613.15" x2="632.73" y2="613.15" stroke="#666666" stroke-width="0.8"/>
<line x1="436.87" y1="613.15" x2="436.87" y2="615.75" stroke="#666666" stroke-width="0.8"/>
<text x="436.87" y="623.45" font-size="6.6" font-family='"Liberation Sans", Arial, sans-serif' text-anchor="middle" font-weight="normal" fill="#333333" class="s">17</text>
<line x1="534.8" y1="613.15" x2="534.8" y2="615.75" stroke="#666666" stroke-width="0.8"/>
<text x="534.8" y="623.45" font-size="6.6" font-family='"Liberation Sans", Arial, sans-serif' text-anchor="middle" font-weight="normal" fill="#333333" class="s">18</text>
<line x1="632.73" y1="613.15" x2="632.73" y2="615.75" stroke="#666666" stroke-width="0.8"/>
<text x="632.73" y="623.45" font-size="6.6" font-family='"Liberation Sans", Arial, sans-serif' text-anchor="middle" font-weight="normal" fill="#333333" class="s">19</text>
<rect x="44.7" y="209.4" width="18.8" height="18.6" fill="#444444"/>
<text x="71.5" y="224.3" font-size="14.33" font-family='"Liberation Serif", "Times New Roman", serif' text-anchor="start" font-weight="normal" fill="#000">N</text>
<rect x="96" y="209.4" width="18.8" height="18.6" fill="#388e3c"/>
<text x="122.8" y="224.3" font-size="14.33" font-family='"Liberation Serif", "Times New Roman", serif' text-anchor="start" font-weight="normal" fill="#000">O</text>
<text x="146.4" y="224.3" font-size="14.33" font-family='"Liberation Serif", "Times New Roman", serif' text-anchor="start" font-weight="normal" fill="#000">N: No contact; O: Outpatient contact</text>
<rect x="44.6" y="422.5" width="18.8" height="18.6" fill="#444444"/>
<text x="71.4" y="437.4" font-size="14.33" font-family='"Liberation Serif", "Times New Roman", serif' text-anchor="start" font-weight="normal" fill="#000">N</text>
<rect x="95.8" y="422.5" width="18.8" height="18.6" fill="#0a7dbd"/>
<text x="122.6" y="437.4" font-size="14.33" font-family='"Liberation Serif", "Times New Roman", serif' text-anchor="start" font-weight="normal" fill="#000">H</text>
<rect x="146.4" y="422.5" width="18.8" height="18.6" fill="#045a86"/>
<text x="173.2" y="437.4" font-size="14.33" font-family='"Liberation Serif", "Times New Roman", serif' text-anchor="start" font-weight="normal" fill="#000">B</text>
<rect x="197.3" y="422.5" width="18.8" height="18.6" fill="#388e3c"/>
<text x="224.1" y="437.4" font-size="14.33" font-family='"Liberation Serif", "Times New Roman", serif' text-anchor="start" font-weight="normal" fill="#000">HB</text>
<text x="261.2" y="437.6" font-size="14.33" font-family='"Liberation Serif", "Times New Roman", serif' text-anchor="start" font-weight="normal" fill="#000">N: No diagnostics; H: Hemoglobin A1c; B: &gt;200 blood glucose test strips</text>
<rect x="45" y="636.6" width="18.8" height="18.6" fill="#444444"/>
<text x="71.8" y="651.5" font-size="14.33" font-family='"Liberation Serif", "Times New Roman", serif' text-anchor="start" font-weight="normal" fill="#000">N</text>
<rect x="96.3" y="636.6" width="18.8" height="18.6" fill="#9b0b10"/>
<text x="123.1" y="651.5" font-size="14.33" font-family='"Liberation Serif", "Times New Roman", serif' text-anchor="start" font-weight="normal" fill="#000">R</text>
<rect x="146.5" y="636.6" width="18.8" height="18.6" fill="#d71a1c"/>
<text x="173.3" y="651.5" font-size="14.33" font-family='"Liberation Serif", "Times New Roman", serif' text-anchor="start" font-weight="normal" fill="#000">C</text>
<rect x="197" y="636.6" width="18.8" height="18.6" fill="#f85a45"/>
<text x="223.8" y="651.5" font-size="14.33" font-family='"Liberation Serif", "Times New Roman", serif' text-anchor="start" font-weight="normal" fill="#000">T</text>
<text x="261.2" y="651.5" font-size="14.33" font-family='"Liberation Serif", "Times New Roman", serif' text-anchor="start" font-weight="normal" fill="#000">N: No screenings; R: Retinopathy; C: Cholesterol; T: Thyroid hormones</text>
<rect x="45" y="660" width="18.8" height="18.6" fill="#f3a81f"/>
<text x="71.8" y="674.9" font-size="14.33" font-family='"Liberation Serif", "Times New Roman", serif' text-anchor="start" font-weight="normal" fill="#000">RC</text>
<rect x="96.3" y="660" width="18.8" height="18.6" fill="#f9d21c"/>
<text x="123.1" y="674.9" font-size="14.33" font-family='"Liberation Serif", "Times New Roman", serif' text-anchor="start" font-weight="normal" fill="#000">RT</text>
<rect x="146.5" y="660" width="18.8" height="18.6" fill="#fdf030"/>
<text x="173.3" y="674.9" font-size="14.33" font-family='"Liberation Serif", "Times New Roman", serif' text-anchor="start" font-weight="normal" fill="#000">CT</text>
<rect x="197" y="660" width="18.8" height="18.6" fill="#388e3c"/>
<text x="223.8" y="674.9" font-size="14.33" font-family='"Liberation Serif", "Times New Roman", serif' text-anchor="start" font-weight="normal" fill="#000">RCT</text>
</svg>
</body></html>
